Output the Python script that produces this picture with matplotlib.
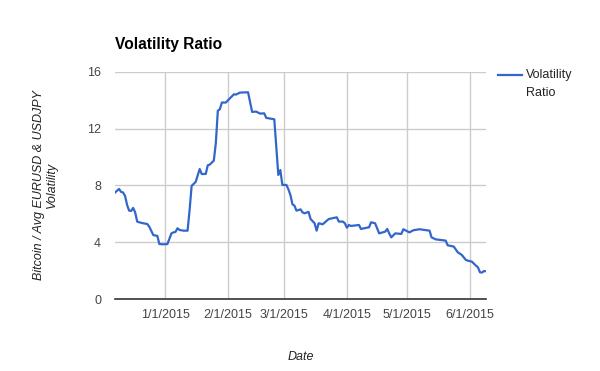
import matplotlib
matplotlib.use("Agg")
import matplotlib.pyplot as plt
import matplotlib.dates as mdates
from matplotlib.lines import Line2D
from matplotlib.ticker import FuncFormatter
import pandas as pd

# data
dates = [
    "2014-12-07", "2014-12-09", "2014-12-10", "2014-12-11", "2014-12-12", "2014-12-13",
    "2014-12-14", "2014-12-15", "2014-12-16", "2014-12-17", "2014-12-18", "2014-12-19",
    "2014-12-21", "2014-12-23", "2014-12-24", "2014-12-26", "2014-12-28", "2014-12-29",
    "2014-12-31", "2015-01-02", "2015-01-04", "2015-01-05", "2015-01-06", "2015-01-07",
    "2015-01-08", "2015-01-10", "2015-01-12", "2015-01-13", "2015-01-14", "2015-01-16",
    "2015-01-18", "2015-01-19", "2015-01-21", "2015-01-22", "2015-01-23", "2015-01-25",
    "2015-01-26", "2015-01-27", "2015-01-28", "2015-01-29", "2015-01-31", "2015-02-02",
    "2015-02-04", "2015-02-05", "2015-02-07", "2015-02-11", "2015-02-13", "2015-02-15",
    "2015-02-17", "2015-02-19", "2015-02-20", "2015-02-22", "2015-02-24", "2015-02-26",
    "2015-02-27", "2015-02-28", "2015-03-02", "2015-03-03", "2015-03-04", "2015-03-05",
    "2015-03-06", "2015-03-07", "2015-03-09", "2015-03-10", "2015-03-11", "2015-03-13",
    "2015-03-14", "2015-03-16", "2015-03-17", "2015-03-18", "2015-03-20", "2015-03-23",
    "2015-03-27", "2015-03-28", "2015-03-30", "2015-03-31", "2015-04-01", "2015-04-02",
    "2015-04-03", "2015-04-07", "2015-04-08", "2015-04-12", "2015-04-13", "2015-04-15",
    "2015-04-17", "2015-04-20", "2015-04-21", "2015-04-22", "2015-04-23", "2015-04-25",
    "2015-04-28", "2015-04-29", "2015-05-02", "2015-05-04", "2015-05-07", "2015-05-12",
    "2015-05-13", "2015-05-15", "2015-05-20", "2015-05-21", "2015-05-24", "2015-05-26",
    "2015-05-28", "2015-05-30", "2015-05-31", "2015-06-02", "2015-06-04", "2015-06-05",
    "2015-06-06", "2015-06-07", "2015-06-08", "2015-06-09",
]
ratio = [
    7.49, 7.75, 7.54, 7.50, 7.25, 6.62,
    6.22, 6.20, 6.41, 6.10, 5.45, 5.40,
    5.33, 5.28, 5.09, 4.50, 4.44, 3.87,
    3.85, 3.87, 4.62, 4.69, 4.72, 4.98,
    4.86, 4.81, 4.81, 6.27, 7.96, 8.24,
    9.15, 8.80, 8.80, 9.41, 9.46, 9.74,
    10.96, 13.26, 13.36, 13.83, 13.83, 14.13,
    14.41, 14.39, 14.53, 14.55, 13.17, 13.19,
    13.05, 13.07, 12.75, 12.70, 12.65, 8.73,
    9.08, 8.03, 8.03, 7.72, 7.32, 6.67,
    6.57, 6.22, 6.31, 6.10, 6.03, 6.13,
    5.63, 5.33, 4.81, 5.33, 5.26, 5.63,
    5.75, 5.45, 5.45, 5.33, 5.02, 5.21,
    5.14, 5.21, 4.93, 5.05, 5.40, 5.33,
    4.62, 4.74, 4.93, 4.62, 4.34, 4.62,
    4.58, 4.91, 4.69, 4.84, 4.91, 4.81,
    4.34, 4.20, 4.11, 3.78, 3.69, 3.29,
    3.10, 2.75, 2.70, 2.63, 2.35, 2.23,
    1.88, 1.86, 1.97, 1.95,
]
y_ticks = [0, 4, 8, 12, 16]
x_ticks = ["2015-01-01", "2015-02-01", "2015-03-01", "2015-04-01", "2015-05-01", "2015-06-01"]

x = pd.to_datetime(dates)
blue = '#3366cc'

plt.rcParams['font.family'] = ['Liberation Sans', 'DejaVu Sans']

fig = plt.figure(figsize=(6, 3.71), dpi=100)
ax = fig.add_axes([115 / 600, 1 - 299 / 371, (486 - 115) / 600, (299 - 71.7) / 371])

ax.plot(x, ratio, color=blue, lw=1.6)

ax.set_xlim(x[0], x[-1])
ax.set_ylim(0, 16)
ax.set_yticks(y_ticks)
ax.set_xticks(pd.to_datetime(x_ticks))
ax.xaxis.set_major_formatter(FuncFormatter(
    lambda v, p: f"{mdates.num2date(v).month}/{mdates.num2date(v).day}/{mdates.num2date(v).year}"))

ax.grid(True, color='#cccccc', lw=1)
ax.set_axisbelow(True)
for s in ['top', 'right', 'left']:
    ax.spines[s].set_visible(False)
ax.spines['bottom'].set_color('#333333')
ax.spines['bottom'].set_linewidth(1.2)
ax.tick_params(length=0, labelsize=9, labelcolor='#444444')
ax.tick_params(axis='y', pad=10)
ax.tick_params(axis='x', pad=7)

ax.set_xlabel('Date', style='italic', fontsize=9, color='#222222', labelpad=22)
ax.set_ylabel('Bitcoin / Avg EURUSD & USDJPY\nVolatility', style='italic', fontsize=9,
              color='#222222', labelpad=21, linespacing=1.15)

fig.text(115 / 600, 1 - 45 / 371, 'Volatility Ratio', fontsize=11.2, fontweight='bold',
         va='center', ha='left', color='#000000')

# legend
fig.add_artist(Line2D([498 / 600, 522 / 600], [1 - 75 / 371, 1 - 75 / 371], color=blue, lw=1.6))
fig.text(526 / 600, 1 - 75 / 371, 'Volatility', fontsize=9, color='#222222', va='center', ha='left')
fig.text(526 / 600, 1 - 93 / 371, 'Ratio', fontsize=9, color='#222222', va='center', ha='left')

fig.savefig('out.png', dpi=100)
